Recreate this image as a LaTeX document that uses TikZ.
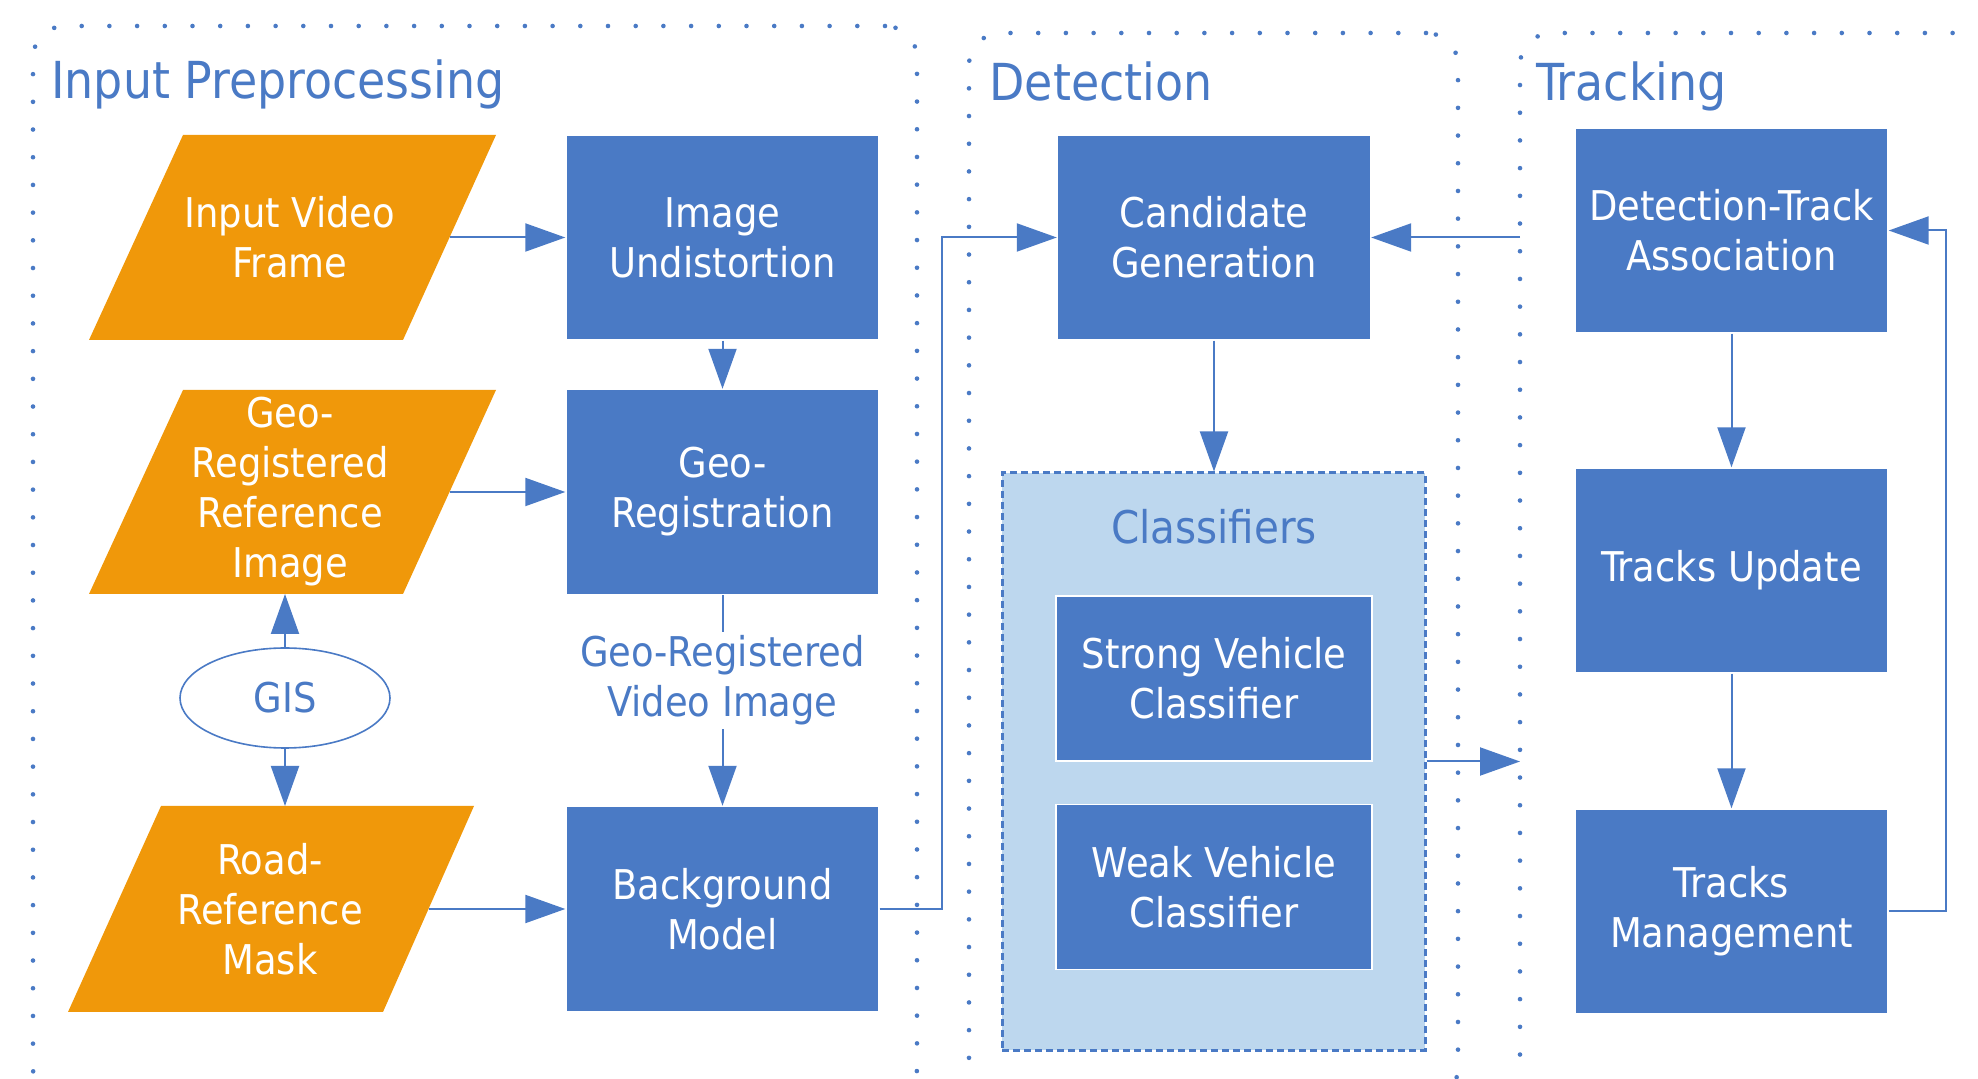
\documentclass[tikz,border=0pt]{standalone}
\usepackage{fontspec}
\setmainfont{DejaVu Sans Condensed}
\usetikzlibrary{shapes.geometric, arrows.meta}
\definecolor{boxblue}{HTML}{4A7AC5}
\definecolor{inorange}{HTML}{F0980A}
\definecolor{lightblue}{HTML}{BDD7EE}
\begin{document}
\begin{tikzpicture}[x=0.5pt, y=-0.5pt,
  txt/.style={font=\fontsize{20.5}{25}\selectfont, align=center},
  procbox/.style={txt, rectangle, fill=boxblue, text=white, draw=white, line width=0.7pt, minimum width=156.5pt, minimum height=102.5pt, inner sep=0pt},
  datatext/.style={txt, text=white, inner sep=0pt},
  datafill/.style={fill=inorange},
  grp/.style={rectangle, draw=boxblue, line width=2.3pt, line cap=round, dash pattern=on 0pt off 13.85pt, rounded corners=16pt, inner sep=0pt, outer sep=0pt},
  grptitle/.style={font=\fontsize{25.5}{30}\selectfont, text=boxblue, anchor=base west, inner sep=0pt},
  conn/.style={draw=boxblue, line width=1pt, -{Triangle[length=20pt,width=14pt]}},
]
\path[use as bounding box] (0,0) rectangle (1978,1079);
\clip (0,0) rectangle (1978,1079);

% groups
\node[grp, minimum width=442pt, minimum height=537pt] (ip) at (475,563) {};
\node[grp, minimum width=244.5pt, minimum height=533.5pt] (det) at (1213.5,566.5) {};
\node[grp, minimum width=260pt, minimum height=533.5pt] (trk) at (1780,566.5) {};
\node[grptitle] (iptitle) at (51,99) {Input Preprocessing};
\node[grptitle] (dettitle) at (989,101) {Detection};
\node[grptitle] (trktitle) at (1536,101) {Tracking};

% input data (parallelograms)
\fill[datafill] (183,135) -- (496,135) -- (403,340) -- (89,340) -- cycle;
\node[datatext] (ivf) at (290,237.5) {Input Video\\Frame};
\coordinate (ivfe) at (449.5,237.5);
\fill[datafill] (183,390) -- (496,390) -- (403,594) -- (89,594) -- cycle;
\node[datatext] (grr) at (290,492) {Geo-\\Registered\\Reference\\Image};
\coordinate (grre) at (449.5,492);
\coordinate (grrs) at (285,594);
\fill[datafill] (161,806) -- (474,806) -- (383,1012) -- (68,1012) -- cycle;
\node[datatext] (rrm) at (270,909) {Road-\\Reference\\Mask};
\coordinate (rrme) at (428.5,909);
\coordinate (rrmn) at (285,806);

% input preprocessing
\node[procbox] (iu) at (722.5,237.5) {Image\\Undistortion};
\node[procbox] (gr) at (722.5,492) {Geo-\\Registration};
\node[txt, ellipse, draw=boxblue, line width=0.8pt, fill=white, text=boxblue, minimum width=105pt, minimum height=50pt, inner sep=0pt] (gis) at (285,698) {GIS};
\node[procbox] (bm) at (722.5,909) {Background\\Model};

% detection
\node[procbox] (cg) at (1214,237.5) {Candidate\\Generation};
\node[rectangle, fill=lightblue, draw=boxblue, line width=1.5pt, dash pattern=on 3.5pt off 2pt, minimum width=211.5pt, minimum height=288.5pt, inner sep=0pt] (cls) at (1213.5,761.5) {};
\node[font=\fontsize{22.5}{27}\selectfont, text=boxblue, inner sep=0pt] (clstitle) at (1214,527) {Classifiers};
\node[procbox, minimum width=158pt, minimum height=82.5pt] (svc) at (1214,678.5) {Strong Vehicle\\Classifier};
\node[procbox, minimum width=158pt, minimum height=82.5pt] (wvc) at (1214,887) {Weak Vehicle\\Classifier};

% tracking
\node[procbox] (dta) at (1731.5,230.5) {Detection-Track\\Association};
\node[procbox] (tu) at (1731.5,570.5) {Tracks Update};
\node[procbox] (tm) at (1731.5,911.5) {Tracks\\Management};

% connectors
\draw[conn] (ivfe) -- (iu);
\draw[conn] (iu) -- (gr);
\draw[conn] (grre) -- (gr);
\draw[conn] (gis.north) -- (grrs);
\draw[conn] (gis.south) -- (rrmn);
\draw[conn] (rrme) -- (bm);
\draw[conn] (gr) -- node[pos=0.405, txt, fill=white, text=boxblue, inner sep=2pt] (grvi) {Geo-Registered\\Video Image} (bm);
\draw[conn] (bm.east) -- ++(62,0) |- (cg.west);
\draw[conn] (cg.east -| trk.west) -- (cg.east);
\draw[conn] (cg.south) -- (cg.south |- cls.north);
\draw[conn] (cls.east) -- (cls.east -| trk.west);
\draw[conn] (dta) -- (tu);
\draw[conn] (tu) -- (tm);
\draw[conn] (tm.east) -- ++(57,0) |- (dta.east);
\end{tikzpicture}
\end{document}
